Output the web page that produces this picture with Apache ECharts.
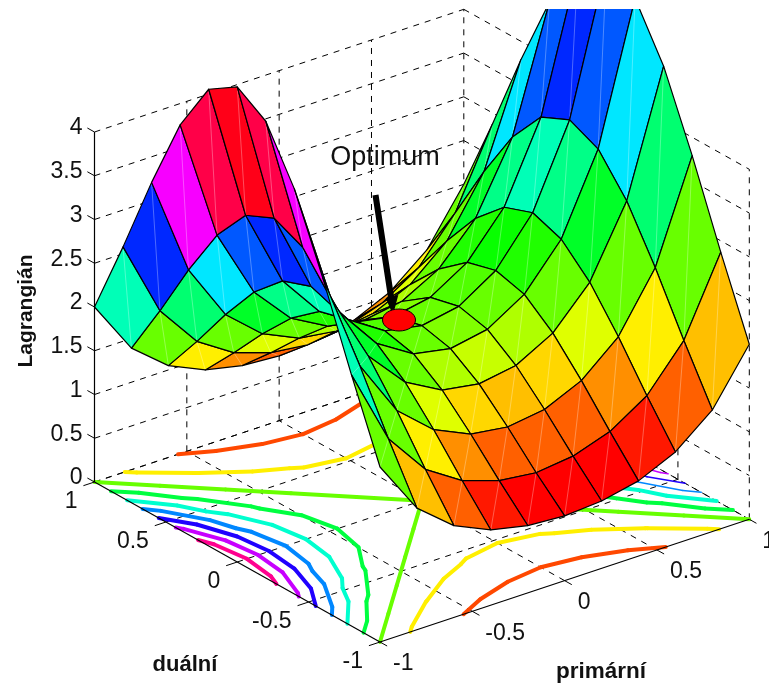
<!DOCTYPE html>
<html><head><meta charset="utf-8">
<style>html,body{margin:0;padding:0;background:#fff}#c{width:769px;height:685px}</style>
<script src="https://cdn.jsdelivr.net/npm/echarts@6/dist/echarts.min.js"></script>
</head><body><div id="c"></div>
<script>
// Axis values
const primalValues = [-1,-0.8,-0.6,-0.4,-0.2,0,0.2,0.4,0.6,0.8,1];
const dualValues   = [-1,-0.8,-0.6,-0.4,-0.2,0,0.2,0.4,0.6,0.8,1];
const planarTicks  = [-1,-0.5,0,0.5,1];
const planarLabels = ['-1','-0.5','0','0.5','1'];
const heightTicks  = [0,0.5,1,1.5,2,2.5,3,3.5,4];
const heightLabels = ['0','0.5','1','1.5','2','2.5','3','3.5','4'];
const contourLevels = [1,1.5,2,2.5,3,3.5,4,4.5,5];
// Surface heights, one list per dual value, read across primal -1..1
const dualM10 = [2.00,1.39,1.05,0.86,0.77,0.74,0.77,0.86,1.05,1.39,2.00];
const dualM08 = [2.87,2.00,1.51,1.24,1.10,1.05,1.10,1.24,1.51,2.00,2.87];
const dualM06 = [3.79,2.65,2.00,1.64,1.45,1.39,1.45,1.64,2.00,2.65,3.79];
const dualM04 = [4.63,3.23,2.44,2.00,1.77,1.70,1.77,2.00,2.44,3.23,4.63];
const dualM02 = [5.22,3.64,2.75,2.26,2.00,1.92,2.00,2.26,2.75,3.64,5.22];
const dual00  = [5.43,3.79,2.87,2.35,2.08,2.00,2.08,2.35,2.87,3.79,5.43];
const dualP02 = [5.22,3.64,2.75,2.26,2.00,1.92,2.00,2.26,2.75,3.64,5.22];
const dualP04 = [4.63,3.23,2.44,2.00,1.77,1.70,1.77,2.00,2.44,3.23,4.63];
const dualP06 = [3.79,2.65,2.00,1.64,1.45,1.39,1.45,1.64,2.00,2.65,3.79];
const dualP08 = [2.87,2.00,1.51,1.24,1.10,1.05,1.10,1.24,1.51,2.00,2.87];
const dualP10 = [2.00,1.39,1.05,0.86,0.77,0.74,0.77,0.86,1.05,1.39,2.00];
const heights = [dualM10,dualM08,dualM06,dualM04,dualM02,dual00,dualP02,dualP04,dualP06,dualP08,dualP10];

// Oblique view of the box, mapped on to the hidden screen-unit axes
const VIEW = {ox:380, oy:642, px:369.3, py:-122.7, dx:-285.5, dy:-160, zs:87.5};
function project(p,d,z){
  const u=(p+1)/2, v=(d+1)/2;
  return [VIEW.ox+u*VIEW.px+v*VIEW.dx, VIEW.oy+u*VIEW.py+v*VIEW.dy-z*VIEW.zs];
}
// hsv colormap, 64 steps, over the surface's range
const zMin=Math.min(...heights.flat()), zMax=Math.max(...heights.flat());
function hsvColor(z){
  const t=(z-zMin)/(zMax-zMin);
  const h=Math.min(63,Math.floor(t*64))/64*6;
  const k=Math.floor(h)%6, f=h-Math.floor(h);
  const rgb=[[1,f,0],[1-f,1,0],[0,1,f],[0,1-f,1],[f,0,1],[1,0,1-f]][k];
  return 'rgb('+rgb.map(c=>Math.round(c*255)).join(',')+')';
}

// Surface cells far-to-near (painter's order)
const cellData=[];
for(let j=dualValues.length-2;j>=0;j--) for(let i=primalValues.length-2;i>=0;i--) cellData.push([i,j]);

// Contours on the floor, marching squares over the table
const contourSegs=[];
contourLevels.forEach((L,li)=>{
  for(let j=0;j<dualValues.length-1;j++) for(let i=0;i<primalValues.length-1;i++){
    const cs=[[i,j],[i+1,j],[i+1,j+1],[i,j+1]], pts=[];
    for(let e=0;e<4;e++){
      const a=cs[e], b=cs[(e+1)%4], za=heights[a[1]][a[0]], zb=heights[b[1]][b[0]];
      if((za>=L)!==(zb>=L)){
        const t=(L-za)/(zb-za);
        pts.push([primalValues[a[0]]+t*(primalValues[b[0]]-primalValues[a[0]]),
                  dualValues[a[1]]+t*(dualValues[b[1]]-dualValues[a[1]])]);
      }
    }
    for(let k=0;k+1<pts.length;k+=2) contourSegs.push([li,pts[k][0],pts[k][1],pts[k+1][0],pts[k+1][1]]);
  }
});

// Dashed box and grid
const gridSegs=[];
const topZ=heightTicks[heightTicks.length-1];
heightTicks.forEach(z=>{
  gridSegs.push([-1,1,z,1,1,z]);
  gridSegs.push([1,1,z,1,-1,z]);
});
planarTicks.forEach(t=>{
  if(t>-1){
    gridSegs.push([t,1,0,t,1,topZ]);
    gridSegs.push([t,-1,0,t,1,0]);
  }
  if(t<1) gridSegs.push([1,t,0,1,t,topZ]);
  if(t>-1) gridSegs.push([-1,t,0,1,t,0]);
});
// Solid axes
const axisSegs=[[-1,-1,0,1,-1,0],[-1,-1,0,-1,1,0],[-1,1,0,-1,1,topZ]];
const TICK_D=0.05, TICK_P=0.06;
const tickSegs=[];
planarTicks.forEach(t=>{
  tickSegs.push([t,-1,0,t,-1-TICK_D,0]);
  tickSegs.push([-1,t,0,-1-TICK_P,t,0]);
});
heightTicks.forEach(z=>tickSegs.push([-1,1,z,-1,1+TICK_D,z]));

const primalTickData=planarTicks.map((t,i)=>[t,i]);
const dualTickData=planarTicks.map((t,i)=>[t,i]);
const heightTickData=heightTicks.map((t,i)=>[t,i]);

const segItem=(style)=>function(params,api){
  const a=project(api.value(0),api.value(1),api.value(2));
  const b=project(api.value(3),api.value(4),api.value(5));
  const p=api.coord(a), q=api.coord(b);
  return {type:'line',shape:{x1:p[0],y1:p[1],x2:q[0],y2:q[1]},style:Object.assign({fill:null},style)};
};
const FONT='"Liberation Sans",Arial,sans-serif';
const textEl=(xy,text,size,weight,align,rotation)=>({
  type:'text',x:xy[0],y:xy[1],rotation:rotation||0,
  style:{text:text,fontFamily:FONT,fontSize:size,fontWeight:weight,fill:'#111',align:align,verticalAlign:'middle'}
});

const optimumLabel='Optimum';
const xLabel='primární', yLabel='duální', zLabel='Lagrangián';
// Annotation anchors in the screen-unit axes
const optimumDisc=[399,320,16.5,11];
const arrowShape=[[372.5,195.5],[378.5,194.5],[394,296],[398.3,295],[393,315],[385.7,298],[388,297.5]];

const option={
  animation:false,
  backgroundColor:'#fff',
  grid:{left:0,right:0,top:9,bottom:0},
  xAxis:{type:'value',min:0,max:769,show:false},
  yAxis:{type:'value',min:9,max:685,inverse:true,show:false},
  series:[
    {type:'custom',coordinateSystem:'cartesian2d',silent:true,clip:false,data:gridSegs,z:1,
     renderItem:segItem({stroke:'#000',lineWidth:1,lineDash:[6,6]})},
    {type:'custom',coordinateSystem:'cartesian2d',silent:true,clip:false,data:contourSegs,z:2,
     renderItem(params,api){
       const li=api.value(0), L=contourLevels[li];
       const p1=api.value(1), d1=api.value(2), p2=api.value(3), d2=api.value(4);
       const p=api.coord(project(p1,d1,0)), q=api.coord(project(p2,d2,0));
       const thin=(p1>0&&L>=3.5);
       return {type:'line',shape:{x1:p[0],y1:p[1],x2:q[0],y2:q[1]},
         style:{stroke:hsvColor(L),lineWidth:thin?1.5:4,lineCap:'round',fill:null}};
     }},
    {type:'custom',coordinateSystem:'cartesian2d',silent:true,clip:true,data:cellData,z:3,
     renderItem(params,api){
       const i=api.value(0), j=api.value(1);
       const corners=[[i,j],[i+1,j],[i+1,j+1],[i,j+1]];
       const pts=corners.map(c=>api.coord(project(primalValues[c[0]],dualValues[c[1]],heights[c[1]][c[0]])));
       const z2=params.dataIndex*3;
       return {type:'group',children:[
         {type:'polygon',z2:z2,shape:{points:pts},style:{fill:hsvColor(heights[j][i])}},
         {type:'line',z2:z2+1,shape:{x1:pts[0][0],y1:pts[0][1],x2:pts[2][0],y2:pts[2][1]},
          style:{stroke:'rgba(255,255,255,0.3)',lineWidth:1,fill:null}},
         {type:'polygon',z2:z2+2,shape:{points:pts},style:{fill:null,stroke:'#000',lineWidth:1.2,lineJoin:'round'}}
       ]};
     }},
    {type:'custom',coordinateSystem:'cartesian2d',silent:true,clip:false,data:axisSegs,z:4,
     renderItem:segItem({stroke:'#000',lineWidth:1.2})},
    {type:'custom',coordinateSystem:'cartesian2d',silent:true,clip:false,data:tickSegs,z:4,
     renderItem:segItem({stroke:'#000',lineWidth:1})},
    {type:'custom',coordinateSystem:'cartesian2d',silent:true,clip:false,data:primalTickData,z:5,
     renderItem(params,api){
       const xy=api.coord(project(api.value(0),-1,0));
       return textEl([xy[0]+13,xy[1]+22],planarLabels[api.value(1)],23,'normal','left');
     }},
    {type:'custom',coordinateSystem:'cartesian2d',silent:true,clip:false,data:dualTickData,z:5,
     renderItem(params,api){
       const xy=api.coord(project(-1,api.value(0),0));
       return textEl([xy[0]-17,xy[1]+20],planarLabels[api.value(1)],23,'normal','right');
     }},
    {type:'custom',coordinateSystem:'cartesian2d',silent:true,clip:false,data:heightTickData,z:5,
     renderItem(params,api){
       const xy=api.coord(project(-1,1,api.value(0)));
       return textEl([xy[0]-12,xy[1]-4],heightLabels[api.value(1)],23,'normal','right');
     }},
    {type:'custom',coordinateSystem:'cartesian2d',silent:true,clip:false,data:[[0,0]],z:6,
     renderItem(params,api){
       const at=(x,y)=>api.coord([x,y]);
       return {type:'group',children:[
         {type:'polygon',shape:{points:arrowShape.map(a=>at(a[0],a[1]))},style:{fill:'#000'}},
         {type:'ellipse',shape:{cx:at(optimumDisc[0],0)[0],cy:at(0,optimumDisc[1])[1],rx:optimumDisc[2],ry:optimumDisc[3]},
          style:{fill:'#ff0000',stroke:'#000',lineWidth:1}},
         textEl(at(385,158),optimumLabel,27,'normal','center'),
         textEl(at(185,665),yLabel,22,'bold','center'),
         textEl(at(601,672),xLabel,22.5,'bold','center'),
         textEl(at(26,311),zLabel,21,'bold','center',Math.PI/2)
       ]};
     }}
  ]
};
echarts.init(document.getElementById('c'),null,{renderer:'canvas'}).setOption(option);
</script></body></html>
